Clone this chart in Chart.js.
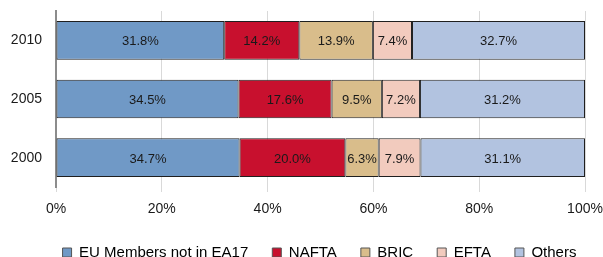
<!DOCTYPE html>
<html>
<head>
<meta charset="utf-8">
<script src="https://cdn.jsdelivr.net/npm/chart.js@4"></script>
<style>
  html, body { margin: 0; padding: 0; background: #fff; }
  #wrap { width: 603px; height: 257px; }
</style>
</head>
<body>
<div id="wrap"><canvas id="c" width="603" height="257"></canvas></div>
<script>
const years = ["2010", "2005", "2000"];
const euNotEA17 = [31.8, 34.5, 34.7];
const nafta = [14.2, 17.6, 20.0];
const bric = [13.9, 9.5, 6.3];
const efta = [7.4, 7.2, 7.9];
const others = [32.7, 31.2, 31.1];
const xTicks = [0, 20, 40, 60, 80, 100];

const FONT = "'Liberation Sans', Arial, sans-serif";

const barLabels = {
  id: "barLabels",
  afterDatasetsDraw(chart) {
    const ctx = chart.ctx;
    ctx.save();
    ctx.font = "13px " + FONT;
    ctx.fillStyle = "#1a1a1a";
    ctx.textAlign = "center";
    ctx.textBaseline = "middle";
    chart.data.datasets.forEach((ds, i) => {
      chart.getDatasetMeta(i).data.forEach((bar, j) => {
        const p = bar.getCenterPoint();
        ctx.fillText(ds.data[j].toFixed(1) + "%", p.x, p.y + 1.5);
      });
    });
    ctx.restore();
  }
};

// short legend block, nudged right and up like the original
const legendPlace = {
  id: "legendPlace",
  afterInit(chart) {
    const lg = chart.legend;
    if (!lg) return;
    const fit = lg.fit;
    lg.fit = function () {
      fit.call(this);
      this.height = 29;
    };
  },
  afterLayout(chart) {
    const lg = chart.legend;
    if (!lg) return;
    lg.left += 27;
    lg.right += 27;
    lg.top -= 7;
    lg.bottom = chart.height;
  }
};

function series(label, data, color) {
  return {
    label,
    data,
    backgroundColor: color,
    borderColor: "#1f1f1f",
    borderWidth: 1,
    borderSkipped: false,
    categoryPercentage: 1,
    barPercentage: 0.66
  };
}

new Chart(document.getElementById("c"), {
  type: "bar",
  data: {
    labels: years,
    datasets: [
      series("EU Members not in EA17", euNotEA17, "#7099c6"),
      series("NAFTA", nafta, "#c8102e"),
      series("BRIC", bric, "#d9bd8b"),
      series("EFTA", efta, "#f2cbbe"),
      series("Others", others, "#b2c3e0")
    ]
  },
  options: {
    indexAxis: "y",
    responsive: false,
    animation: false,
    layout: { padding: { top: 11, right: 18, left: 0, bottom: 0 } },
    scales: {
      x: {
        stacked: true,
        min: 0,
        max: 100,
        afterBuildTicks(axis) { axis.ticks = xTicks.map(v => ({ value: v })); },
        afterFit(axis) {
          axis.height = 41;
          axis.paddingLeft = 0;
          axis.paddingRight = 0;
        },
        grid: { color: "#d9d9d9", tickLength: 5, tickColor: "#d9d9d9" },
        border: { display: false },
        ticks: {
          padding: 9,
          color: "#1a1a1a",
          font: { family: FONT, size: 14 },
          callback: v => v + "%"
        }
      },
      y: {
        stacked: true,
        afterFit(axis) {
          axis.width = 56;
          axis.paddingTop = 0;
          axis.paddingBottom = 0;
        },
        grid: { display: false },
        border: { display: true, color: "#8c8c8c", width: 2 },
        ticks: {
          padding: 6,
          color: "#1a1a1a",
          font: { family: FONT, size: 14 }
        }
      }
    },
    plugins: {
      legend: {
        position: "bottom",
        labels: {
          boxWidth: 9,
          boxHeight: 9,
          padding: 24,
          color: "#1a1a1a",
          font: { family: FONT, size: 15 },
          generateLabels(chart) {
            return chart.data.datasets.map((ds, i) => ({
              text: ds.label,
              fillStyle: ds.backgroundColor,
              strokeStyle: "#555",
              lineWidth: 1,
              datasetIndex: i
            }));
          }
        }
      },
      tooltip: { enabled: false }
    }
  },
  plugins: [barLabels, legendPlace]
});
</script>
</body>
</html>
